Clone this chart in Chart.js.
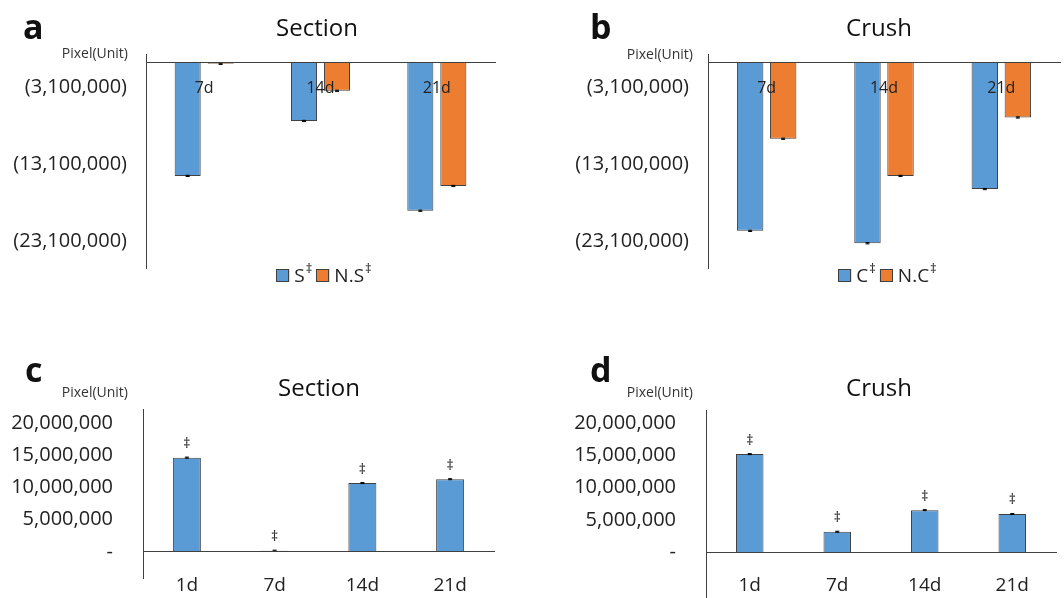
<!DOCTYPE html>
<html><head><meta charset="utf-8">
<script src="https://cdn.jsdelivr.net/npm/chart.js@4"></script>
<style>
body{margin:0;background:#fff;width:1064px;height:598px;position:relative;overflow:hidden;font-family:'Open Sans',sans-serif;}
canvas{position:absolute;}
.t{position:absolute;line-height:1;white-space:nowrap;color:#111;z-index:2;}
.L{font-weight:bold;font-size:34px;}
.T{font-size:24px;width:240px;text-align:center;}
.P{font-size:14px;width:128px;text-align:right;color:#333;}
</style></head><body>
<canvas id="ca" width="530" height="300" style="left:0;top:0"></canvas>
<canvas id="cb" width="534" height="300" style="left:530px;top:0"></canvas>
<canvas id="cc" width="530" height="298" style="left:0;top:300px"></canvas>
<canvas id="cd" width="534" height="298" style="left:530px;top:300px"></canvas>

<div class="t L" style="left:23px;top:9px">a</div>
<div class="t L" style="left:590px;top:9px">b</div>
<div class="t L" style="left:25px;top:352px">c</div>
<div class="t L" style="left:590px;top:352px">d</div>

<div class="t T" style="left:197px;top:15px">Section</div>
<div class="t T" style="left:759px;top:15px">Crush</div>
<div class="t T" style="left:199px;top:375px">Section</div>
<div class="t T" style="left:759px;top:375px">Crush</div>

<div class="t P" style="left:0;top:46px">Pixel(Unit)</div>
<div class="t P" style="left:565px;top:47px">Pixel(Unit)</div>
<div class="t P" style="left:0;top:385px">Pixel(Unit)</div>
<div class="t P" style="left:565px;top:385px">Pixel(Unit)</div>

<script>
// ---- data ----
const abCategories = ['7d', '14d', '21d'];
const sectionS  = [-14600000, -7500000, -19100000];
const sectionNS = [-120000, -3600000, -15900000];
const crushC    = [-21700000, -23300000, -16300000];
const crushNC   = [-9800000, -14600000, -7050000];
const errSmall3 = [80000, 80000, 80000];

const cdCategories = ['1d', '7d', '14d', '21d'];
const sectionRatio = [14650000, 200000, 10700000, 11300000];
const crushRatio   = [15200000, 3150000, 6500000, 5900000];
const errSmall4 = [80000, 80000, 80000, 80000];

const abTicks = [-3100000, -13100000, -23100000];
const cdTicks = [0, 5000000, 10000000, 15000000, 20000000];

const BLUE = '#5B9BD5', ORANGE = '#ED7D31', EDGE = '#404040';

Chart.defaults.font.family = "'Open Sans', sans-serif";
Chart.defaults.color = '#222';

const fmt = v => Math.abs(v).toLocaleString('en-US');

const extras = {
  id: 'extras',
  afterDatasetsDraw(chart, args, opts) {
    const ctx = chart.ctx, ys = chart.scales.y;
    chart.data.datasets.forEach((ds, di) => {
      const meta = chart.getDatasetMeta(di);
      meta.data.forEach((bar, i) => {
        const v = ds.data[i];
        const e = opts.errors ? opts.errors[di][i] : 0;
        const x = bar.x;
        const y1 = ys.getPixelForValue(v - e), y2 = ys.getPixelForValue(v + e);
        ctx.save();
        ctx.strokeStyle = '#000'; ctx.lineWidth = 1;
        ctx.beginPath();
        ctx.moveTo(x, y1); ctx.lineTo(x, y2);
        ctx.moveTo(x - 2, y1); ctx.lineTo(x + 2, y1);
        ctx.moveTo(x - 2, y2); ctx.lineTo(x + 2, y2);
        ctx.stroke();
        if (opts.dagger) {
          ctx.fillStyle = '#222';
          ctx.font = "14px 'Open Sans'";
          ctx.textAlign = 'center'; ctx.textBaseline = 'middle';
          ctx.fillText('\u2021', x, Math.min(y1, y2) - 13);
        }
        ctx.restore();
      });
    });
  },
  afterDraw(chart, args, opts) {
    if (!opts.legend) return;
    const ctx = chart.ctx, ca = chart.chartArea;
    const mainF = "19px 'Open Sans'", supF = "13px 'Open Sans'";
    const box = 13, gBT = 5, gItem = 5;
    ctx.save();
    const items = chart.data.datasets.map(ds => {
      ctx.font = mainF; const lw = ctx.measureText(ds.label).width;
      ctx.font = supF; const sw = ctx.measureText('\u2021').width;
      return {ds, lw, sw, w: box + gBT + lw + sw};
    });
    const total = items.reduce((a, it) => a + it.w, 0) + gItem * (items.length - 1);
    let x = (ca.left + ca.right) / 2 + (opts.shift || 0) - total / 2;
    const cy = ca.bottom + 7.5;
    items.forEach(it => {
      ctx.fillStyle = it.ds.backgroundColor;
      ctx.fillRect(x, cy - 6.5, box, box);
      ctx.strokeStyle = EDGE; ctx.lineWidth = 1;
      ctx.strokeRect(Math.round(x) + 0.5, Math.round(cy - 6.5) + 0.5, box - 1, box - 1);
      ctx.fillStyle = '#222';
      ctx.textAlign = 'left'; ctx.textBaseline = 'middle';
      ctx.font = mainF;
      ctx.fillText(it.ds.label, x + box + gBT, cy + 1);
      ctx.font = supF;
      ctx.fillText('\u2021', x + box + gBT + it.lw + 1, cy - 6);
      x += it.w + gItem;
    });
    ctx.restore();
  }
};

function makeChart(id, cfg) {
  const datasets = cfg.series.map(s => ({
    label: s.label, data: s.data, backgroundColor: s.color,
    borderColor: EDGE, borderWidth: 1,
    barPercentage: cfg.barPct, categoryPercentage: cfg.catPct
  }));
  return new Chart(document.getElementById(id), {
    type: 'bar',
    data: {labels: cfg.labels, datasets},
    plugins: [extras],
    options: {
      responsive: false, animation: false, devicePixelRatio: 1,
      layout: {padding: cfg.padding},
      plugins: {
        legend: {display: false}, title: {display: false}, tooltip: {enabled: false},
        extras: {errors: cfg.errors, dagger: cfg.dagger, legend: cfg.legend, shift: cfg.shift}
      },
      scales: {
        x: {
          type: 'category', position: {y: 0}, offset: true,
          grid: {display: false, drawTicks: false},
          border: {display: true, color: EDGE, width: 1, z: 1},
          ticks: {font: {size: cfg.xFont}, padding: cfg.xPad, color: '#222', maxRotation: 0, z: 1}
        },
        y: {
          min: cfg.min, max: cfg.max,
          grid: {display: false, drawTicks: false},
          border: {display: true, color: EDGE, width: 1},
          afterBuildTicks: sc => { sc.ticks = cfg.ticks.map(v => ({value: v})); },
          afterFit: sc => { sc.width = 140; sc.paddingTop = 0; sc.paddingBottom = 0; },
          ticks: {font: {size: 20}, padding: cfg.yPad, color: '#222', callback: cfg.fmt}
        }
      }
    }
  });
}

const abFmt = v => '(' + fmt(v) + ')';
const cdFmt = v => v === 0 ? '-' : fmt(v);

makeChart('ca', {
  labels: abCategories,
  series: [{label: 'S', data: sectionS, color: BLUE}, {label: 'N.S', data: sectionNS, color: ORANGE}],
  errors: [errSmall3, errSmall3], legend: true, shift: 3,
  barPct: 0.79, catPct: 0.567, min: -26500000, max: 1150000, ticks: abTicks, fmt: abFmt,
  padding: {left: 6, right: 35, top: 54, bottom: 32}, xFont: 16, xPad: 16, yPad: 19
});
makeChart('cb', {
  labels: abCategories,
  series: [{label: 'C', data: crushC, color: BLUE}, {label: 'N.C', data: crushNC, color: ORANGE}],
  errors: [errSmall3, errSmall3], legend: true, shift: 3,
  barPct: 0.8, catPct: 0.563, min: -26500000, max: 1150000, ticks: abTicks, fmt: abFmt,
  padding: {left: 38, right: 4, top: 54, bottom: 32}, xFont: 16, xPad: 16, yPad: 19
});
makeChart('cc', {
  labels: cdCategories,
  series: [{label: 'Section', data: sectionRatio, color: BLUE}],
  errors: [errSmall4], dagger: true,
  barPct: 1, catPct: 0.319, min: -4040000, max: 22200000, ticks: cdTicks, fmt: cdFmt,
  padding: {left: 3, right: 36, top: 109, bottom: 20}, xFont: 19, xPad: 22, yPad: 30
});
makeChart('cd', {
  labels: cdCategories,
  series: [{label: 'Crush', data: crushRatio, color: BLUE}],
  errors: [errSmall4], dagger: true,
  barPct: 1, catPct: 0.314, min: -7140000, max: 22050000, ticks: cdTicks, fmt: cdFmt,
  padding: {left: 36, right: 8, top: 110, bottom: 0}, xFont: 19, xPad: 22, yPad: 30
});
</script>
</body></html>
